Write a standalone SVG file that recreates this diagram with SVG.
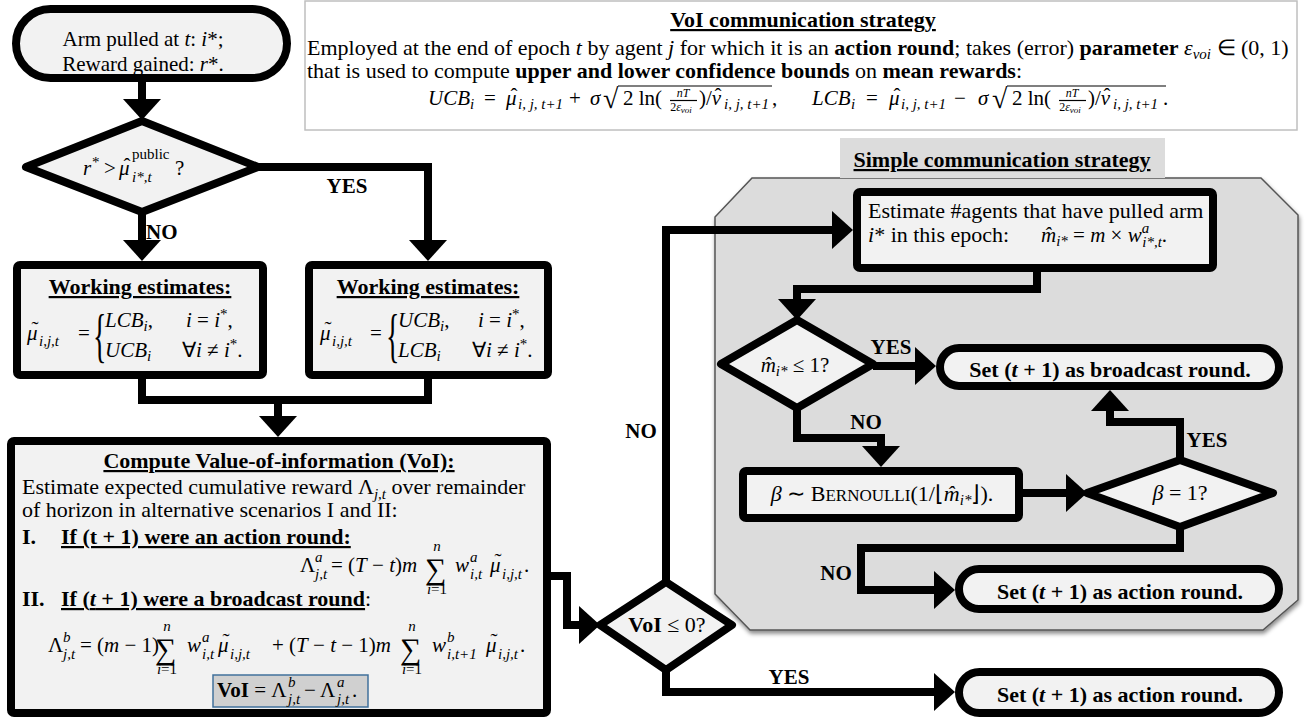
<svg xmlns="http://www.w3.org/2000/svg" width="1307" height="719" viewBox="0 0 1307 719">
<defs>
<marker id="ah" markerUnits="userSpaceOnUse" markerWidth="24" markerHeight="40" viewBox="0 -20 24 40" refX="11" refY="0" orient="auto"><path d="M0,-19 L21,0 L0,19 z" fill="#000" stroke="none"/></marker>
<filter id="sh" x="-5%" y="-5%" width="110%" height="115%"><feDropShadow dx="1" dy="3" stdDeviation="2" flood-color="#000" flood-opacity="0.45"/></filter>
</defs>
<style>
text{font-family:"Liberation Serif","Times New Roman",serif;font-size:22px;fill:#000}
.b{font-weight:bold}.i{font-style:italic}.u{text-decoration:underline}
.f{font-size:21px}
.s{font-size:15px}
.xs{font-size:12px}
.m,.acc{text-anchor:middle}
.node{fill:#f2f2f2;stroke:#000;stroke-width:8;stroke-linejoin:round}
.conn{fill:none;stroke:#000;stroke-width:8;stroke-linejoin:miter;marker-end:url(#ah)}
.line{fill:none;stroke:#000;stroke-width:8}
.thin{stroke:#000;stroke-width:1.2}
.lbl{font-weight:bold;font-size:21px}
.sig{font-size:30px}
</style>

<g id="vo-strategy">
<rect x="305" y="1" width="992" height="129" fill="#fff" stroke="#bfbfbf" stroke-width="1.5"/>
<text x="803" y="27" class="b u m">VoI communication strategy</text>
<text x="307" y="55">Employed at the end of epoch <tspan class="i">t</tspan> by agent <tspan class="i">j</tspan> for which it is an <tspan class="b">action round</tspan>; takes (error) <tspan class="b">parameter</tspan> <tspan class="i">ε</tspan><tspan class="s i" dy="4">voi</tspan><tspan dy="-4"> ∈ (0, 1)</tspan></text>
<text x="307" y="78">that is used to compute <tspan class="b">upper and lower confidence bounds</tspan> on <tspan class="b">mean rewards</tspan>:</text>
<!-- UCB -->
<text x="428" y="105" class="f i">UCB</text><text x="470" y="109" class="s i">i</text>
<text x="484" y="105" class="f">=</text>
<text x="506" y="105" class="f i">μ</text><text x="514" y="103" class="f acc">ˆ</text>
<text x="518" y="109" class="s i">i, j, t+1</text>
<text x="569" y="105" class="f">+</text>
<text x="590" y="105" class="f i">σ</text>
<text x="603" y="108" style="font-size:28px">√</text>
<line class="thin" x1="618" y1="86" x2="772" y2="86"/>
<text x="623" y="105" class="f">2 ln(</text>
<text x="683" y="97" class="xs i m">nT</text>
<line class="thin" x1="670" y1="100.5" x2="697" y2="100.5"/>
<text x="681" y="111" class="xs m">2<tspan class="i">ε</tspan><tspan class="i" dy="2" style="font-size:9px">voi</tspan></text>
<text x="699" y="105" class="f">)/<tspan class="i">ν</tspan></text><text x="718" y="103" class="f acc">ˆ</text>
<text x="724" y="109" class="s i">i, j, t+1</text>
<text x="772" y="105" class="f">,</text>
<!-- LCB -->
<text x="812" y="105" class="f i">LCB</text><text x="851" y="109" class="s i">i</text>
<text x="866" y="105" class="f">=</text>
<text x="889" y="105" class="f i">μ</text><text x="897" y="103" class="f acc">ˆ</text>
<text x="901" y="109" class="s i">i, j, t+1</text>
<text x="954" y="105" class="f">−</text>
<text x="978" y="105" class="f i">σ</text>
<text x="992" y="108" style="font-size:28px">√</text>
<line class="thin" x1="1007" y1="86" x2="1166" y2="86"/>
<text x="1012" y="105" class="f">2 ln(</text>
<text x="1072" y="97" class="xs i m">nT</text>
<line class="thin" x1="1059" y1="100.5" x2="1086" y2="100.5"/>
<text x="1070" y="111" class="xs m">2<tspan class="i">ε</tspan><tspan class="i" dy="2" style="font-size:9px">voi</tspan></text>
<text x="1088" y="105" class="f">)/<tspan class="i">ν</tspan></text><text x="1107" y="103" class="f acc">ˆ</text>
<text x="1113" y="109" class="s i">i, j, t+1</text>
<text x="1163" y="105" class="f">.</text>
</g>

<g id="simple-region">
<polygon points="752,178 1261,178 1298,215 1298,600 1263,630 750,630 715,594 715,217" fill="#dcdcdc" stroke="#555" stroke-width="1.5" filter="url(#sh)"/>
<rect x="840" y="138" width="325" height="40" fill="#dcdcdc"/>
<text x="1002" y="167" class="b u m">Simple communication strategy</text>
</g>

<g id="connectors">
<path class="conn" d="M142,82 V110"/>
<path class="conn" d="M258,167 H428 V251"/>
<path class="conn" d="M142,212 V251"/>
<path class="line" d="M142,379 V400 H428 V379"/>
<path class="conn" d="M278,400 V427"/>
<path class="conn" d="M547,576 H567 V625 H590"/>
<path class="conn" d="M666,582 V230 H843"/>
<path class="conn" d="M666,670 V692 H945"/>
<path class="conn" d="M1037,272 V289 H797 V310"/>
<path class="conn" d="M873,366 H926"/>
<path class="conn" d="M797,408 V438 H881 V457"/>
<path class="conn" d="M1023,493 H1077"/>
<path class="conn" d="M1180,460 V422 H1110 V400"/>
<path class="conn" d="M1180,527 V548 H861 V590 H945"/>
<text x="347" y="193" class="lbl m">YES</text>
<text x="146" y="239" class="lbl">NO</text>
<text x="641" y="438" class="lbl m">NO</text>
<text x="789" y="684" class="lbl m">YES</text>
<text x="891" y="354" class="lbl m">YES</text>
<text x="866" y="429" class="lbl m">NO</text>
<text x="1207" y="447" class="lbl m">YES</text>
<text x="836" y="580" class="lbl m">NO</text>
</g>

<g id="start">
<rect class="node" x="16" y="9" width="271" height="69" rx="34.5"/>
<text x="143" y="46" class="m" style="font-size:21px">Arm pulled at <tspan class="i">t</tspan>: <tspan class="i">i</tspan>*;</text>
<text x="143" y="71" class="m" style="font-size:21px">Reward gained: <tspan class="i">r</tspan>*.</text>
</g>

<g id="decision-public">
<polygon class="node" points="142,121 258,167 142,212 26,167"/>
<text x="83" y="175" class="f i">r</text><text x="92" y="167" class="s">*</text>
<text x="104" y="175" class="f">&gt;</text>
<text x="119" y="175" class="f i">μ</text><text x="127" y="173" class="f acc">ˆ</text>
<text x="132" y="159" class="s">public</text>
<text x="132" y="182" class="s i">i*,t</text>
<text x="175" y="175" class="f">?</text>
</g>

<g id="working-lcb">
<rect class="node" x="17" y="265" width="246" height="110" rx="3"/>
<text x="140" y="294" class="b u m">Working estimates:</text>
<text x="27" y="340" class="f i">μ</text><text x="35" y="336" class="f acc">˜</text><text x="39" y="346" class="s i">i,j,t</text>
<text x="78" y="340" class="f">=</text>
<text transform="translate(93,355) scale(1,2.1)" style="font-size:28px">{</text>
<text x="105" y="327" class="f"><tspan class="i">LCB</tspan><tspan class="s i" dy="4">i</tspan><tspan dy="-4">,</tspan></text>
<text x="186" y="327" class="f"><tspan class="i">i</tspan> = <tspan class="i">i</tspan><tspan class="s" dy="-8">*</tspan><tspan dy="8">,</tspan></text>
<text x="105" y="357" class="f"><tspan class="i">UCB</tspan><tspan class="s i" dy="4">i</tspan></text>
<text x="182" y="357" class="f">∀<tspan class="i">i</tspan> ≠ <tspan class="i">i</tspan><tspan class="s" dy="-8">*</tspan><tspan dy="8">.</tspan></text>
</g>

<g id="working-ucb">
<rect class="node" x="309" y="265" width="239" height="110" rx="3"/>
<text x="428" y="294" class="b u m">Working estimates:</text>
<text x="320" y="340" class="f i">μ</text><text x="328" y="336" class="f acc">˜</text><text x="332" y="346" class="s i">i,j,t</text>
<text x="370" y="340" class="f">=</text>
<text transform="translate(386,355) scale(1,2.1)" style="font-size:28px">{</text>
<text x="398" y="327" class="f"><tspan class="i">UCB</tspan><tspan class="s i" dy="4">i</tspan><tspan dy="-4">,</tspan></text>
<text x="478" y="327" class="f"><tspan class="i">i</tspan> = <tspan class="i">i</tspan><tspan class="s" dy="-8">*</tspan><tspan dy="8">,</tspan></text>
<text x="398" y="357" class="f"><tspan class="i">LCB</tspan><tspan class="s i" dy="4">i</tspan></text>
<text x="472" y="357" class="f">∀<tspan class="i">i</tspan> ≠ <tspan class="i">i</tspan><tspan class="s" dy="-8">*</tspan><tspan dy="8">.</tspan></text>
</g>

<g id="compute-voi">
<rect class="node" x="11" y="441" width="536" height="272" rx="3"/>
<text x="279" y="468" class="b u m">Compute Value-of-information (VoI):</text>
<text x="22" y="494">Estimate expected cumulative reward Λ<tspan class="s i" dy="5">j,t</tspan><tspan dy="-5"> over remainder</tspan></text>
<text x="22" y="517">of horizon in alternative scenarios I and II:</text>
<text x="22" y="544" class="b">I.</text>
<text x="61" y="544" class="b u">If (t + 1) were an action round:</text>
<text x="300" y="572" class="f">Λ</text><text x="315" y="562" class="s i">a</text><text x="315" y="579" class="s i">j,t</text>
<text x="331" y="572" class="f">= (<tspan class="i">T</tspan> − <tspan class="i">t</tspan>)<tspan class="i">m</tspan></text>
<text x="425" y="579" class="sig">∑</text>
<text x="437" y="551" class="s i m">n</text><text x="437" y="594" class="s m"><tspan class="i">i</tspan>=1</text>
<text x="455" y="572" class="f i">w</text><text x="470" y="562" class="s i">a</text><text x="470" y="579" class="s i">i,t</text>
<text x="490" y="572" class="f i">μ</text><text x="498" y="568" class="f acc">˜</text><text x="502" y="579" class="s i">i,j,t</text><text x="524" y="572" class="f">.</text>
<text x="22" y="606" class="b">II.</text>
<text x="61" y="606"><tspan class="b u">If (<tspan class="i">t</tspan> + 1) were a broadcast round</tspan>:</text>
<text x="48" y="652" class="f">Λ</text><text x="63" y="642" class="s i">b</text><text x="63" y="659" class="s i">j,t</text>
<text x="80" y="652" class="f">= (<tspan class="i">m</tspan> − 1)</text>
<text x="155" y="659" class="sig">∑</text>
<text x="167" y="631" class="s i m">n</text><text x="167" y="674" class="s m"><tspan class="i">i</tspan>=1</text>
<text x="187" y="652" class="f i">w</text><text x="202" y="642" class="s i">a</text><text x="202" y="659" class="s i">i,t</text>
<text x="218" y="652" class="f i">μ</text><text x="226" y="648" class="f acc">˜</text><text x="230" y="659" class="s i">i,j,t</text>
<text x="272" y="652" class="f">+ (<tspan class="i">T</tspan> − <tspan class="i">t</tspan> − 1)<tspan class="i">m</tspan></text>
<text x="400" y="659" class="sig">∑</text>
<text x="412" y="631" class="s i m">n</text><text x="412" y="674" class="s m"><tspan class="i">i</tspan>=1</text>
<text x="432" y="652" class="f i">w</text><text x="447" y="642" class="s i">b</text><text x="447" y="659" class="s i">i,t+1</text>
<text x="486" y="652" class="f i">μ</text><text x="494" y="648" class="f acc">˜</text><text x="498" y="659" class="s i">i,j,t</text><text x="520" y="652" class="f">.</text>
<rect x="213" y="675" width="155" height="32" fill="#d0d0d0" stroke="#41719c" stroke-width="1.5"/>
<text x="217" y="697" class="f"><tspan class="b">VoI</tspan> = Λ</text><text x="288" y="687" class="s i">b</text><text x="288" y="704" class="s i">j,t</text>
<text x="304" y="697" class="f">− Λ</text><text x="337" y="687" class="s i">a</text><text x="337" y="704" class="s i">j,t</text><text x="352" y="697" class="f">.</text>
</g>

<g id="decision-voi">
<polygon class="node" points="666,582 732,625 666,670 600,625"/>
<text x="667" y="632" class="m"><tspan class="b">VoI</tspan> ≤ 0?</text>
</g>

<g id="final-action">
<rect class="node" x="959" y="672" width="320" height="41" rx="20.5"/>
<text x="1120" y="702" class="b m">Set (<tspan class="i">t</tspan> + 1) as action round.</text>
</g>

<g id="estimate">
<rect class="node" x="857" y="192" width="356" height="76" rx="3"/>
<text x="868" y="218">Estimate #agents that have pulled arm</text>
<text x="868" y="242"><tspan class="i">i</tspan>* in this epoch:</text>
<text x="1041" y="242" class="f"><tspan class="i">m̂</tspan><tspan class="s i" dy="4">i*</tspan><tspan dy="-4"> = </tspan><tspan class="i">m</tspan> × <tspan class="i">w</tspan><tspan class="s i" dy="-9">a</tspan><tspan class="s i" dx="-7" dy="14">i*,t</tspan><tspan dy="-5">.</tspan></text>
</g>

<g id="decision-m">
<polygon class="node" points="797,320 873,364 797,408 721,364"/>
<text x="795" y="372" class="f m"><tspan class="i">m̂</tspan><tspan class="s i" dy="4">i*</tspan><tspan dy="-4"> ≤ 1?</tspan></text>
</g>

<g id="broadcast">
<rect class="node" x="940" y="348" width="339" height="38" rx="19"/>
<text x="1110" y="377" class="b m">Set (<tspan class="i">t</tspan> + 1) as broadcast round.</text>
</g>

<g id="bernoulli">
<rect class="node" x="743" y="471" width="276" height="47" rx="3"/>
<text x="882" y="501" class="m"><tspan class="i">β</tspan> ∼ B<tspan style="font-size:17px">ERNOULLI</tspan>(1/⌊<tspan class="i">m̂</tspan><tspan class="s i" dy="4">i*</tspan><tspan dy="-4">⌋).</tspan></text>
</g>

<g id="decision-beta">
<polygon class="node" points="1180,460 1273,493 1180,527 1087,493"/>
<text x="1180" y="500" class="m"><tspan class="i">β</tspan> = 1?</text>
</g>

<g id="action-inner">
<rect class="node" x="959" y="569" width="320" height="40" rx="20"/>
<text x="1120" y="599" class="b m">Set (<tspan class="i">t</tspan> + 1) as action round.</text>
</g>
</svg>
